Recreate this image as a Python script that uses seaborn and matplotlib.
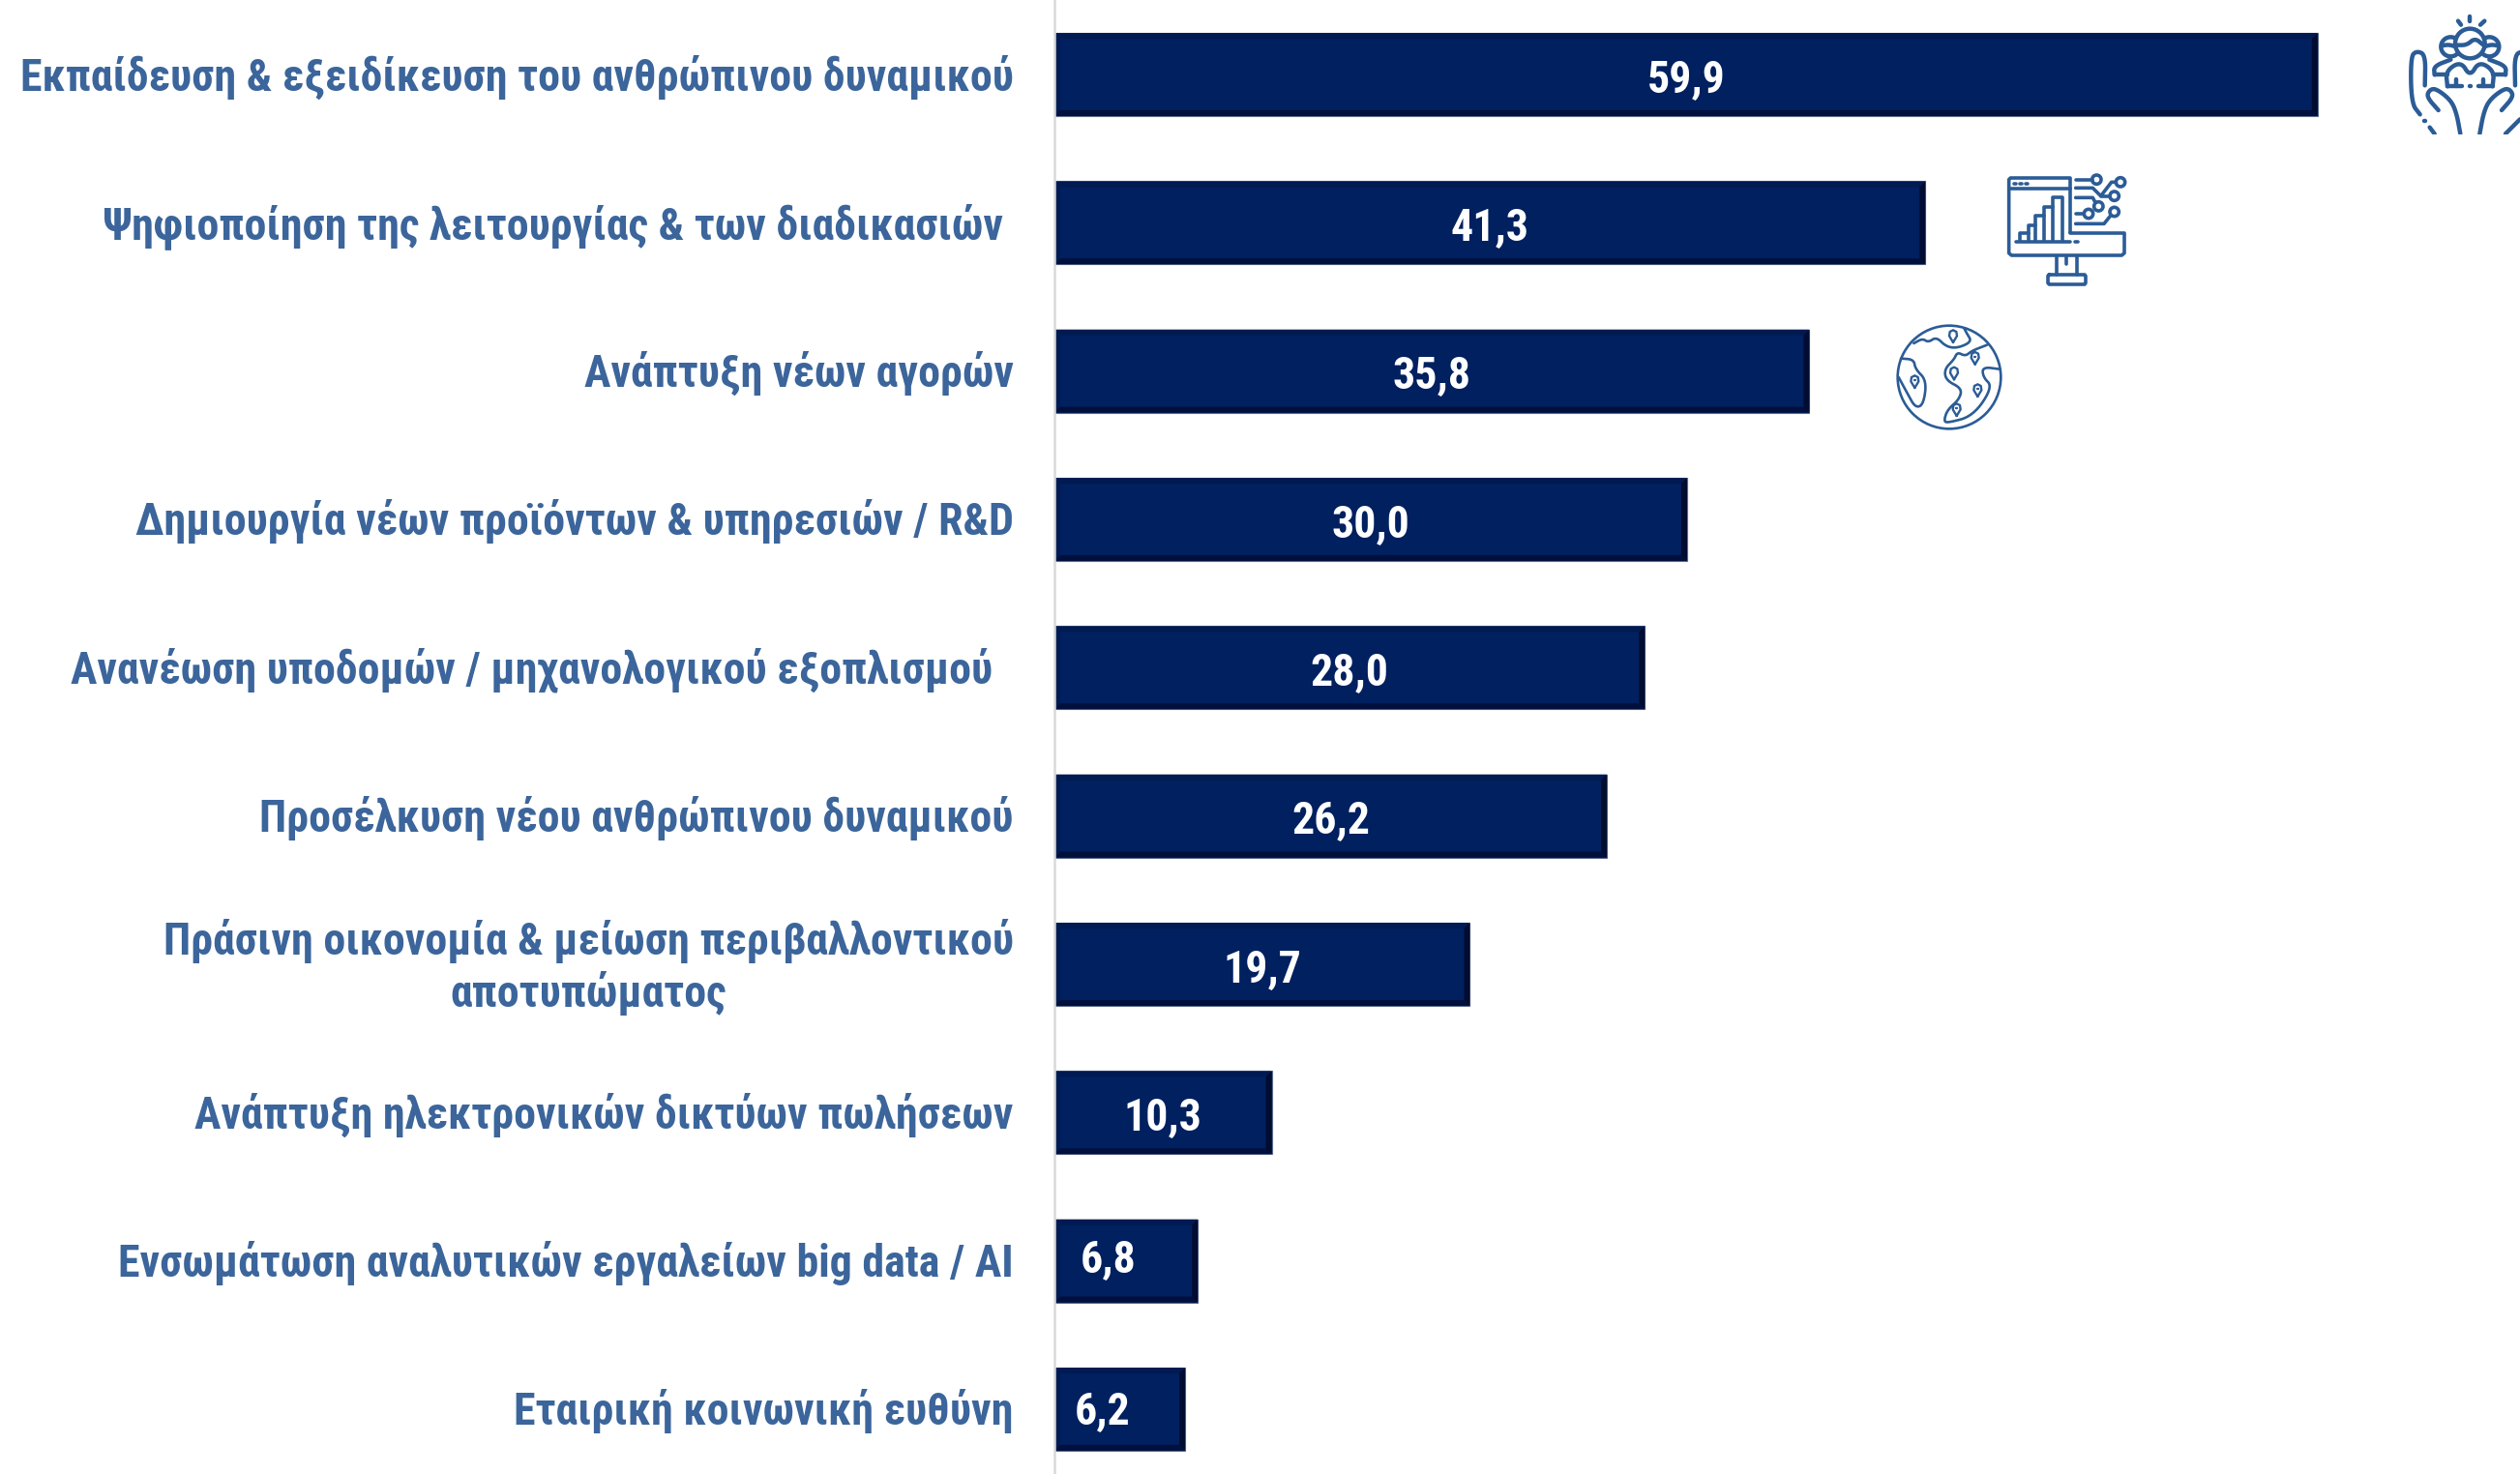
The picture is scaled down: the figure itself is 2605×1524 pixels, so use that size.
import numpy as np
import seaborn as sns
import matplotlib
matplotlib.use("Agg")
import matplotlib.pyplot as plt
from matplotlib.patches import Circle, Polygon, Rectangle
from matplotlib.transforms import ScaledTranslation

categories = [
    "Εκπαίδευση & εξειδίκευση του ανθρώπινου δυναμικού",
    "Ψηφιοποίηση της λειτουργίας & των διαδικασιών ",
    "Ανάπτυξη νέων αγορών",
    "Δημιουργία νέων προϊόντων & υπηρεσιών / R&D",
    "Ανανέωση υποδομών / μηχανολογικού εξοπλισμού  ",
    "Προσέλκυση νέου ανθρώπινου δυναμικού",
    "Πράσινη οικονομία & μείωση περιβαλλοντικού\nαποτυπώματος",
    "Ανάπτυξη ηλεκτρονικών δικτύων πωλήσεων",
    "Ενσωμάτωση αναλυτικών εργαλείων big data / AI",
    "Εταιρική κοινωνική ευθύνη",
]
values = [59.9, 41.3, 35.8, 30.0, 28.0, 26.2, 19.7, 10.3, 6.8, 6.2]

BAR = "#00205f"
TEXT = "#3b659b"
ICON = "#2b5c96"

W, H = 2605, 1524
X0 = 1090          # pixel where the bars start
PX_PER_UNIT = 21.8
ROW = 153.33
TOP = 77

sns.set_theme(style="white")
plt.rcParams['font.family'] = ['Roboto Condensed', 'Liberation Sans', 'DejaVu Sans']

fig = plt.figure(figsize=(W / 100, H / 100), dpi=100)
ax = fig.add_axes([X0 / W, 0, 1 - X0 / W, 1])

sns.barplot(x=values, y=categories, color=BAR, saturation=1, width=0.56, orient="h", ax=ax)
ax.set_xlim(0, (W - X0) / PX_PER_UNIT)
ax.set_ylim((H - TOP) / ROW, -TOP / ROW)
ax.xaxis.set_visible(False)
for s in ["top", "right", "bottom"]:
    ax.spines[s].set_visible(False)
ax.spines["left"].set_color("#d9d9d9")
ax.spines["left"].set_linewidth(1.8)
ax.tick_params(axis="y", length=0, pad=30.5)
for lab in ax.get_yticklabels():
    lab.set_fontsize(33)
    lab.set_fontweight("bold")
    lab.set_color(TEXT)
    lab.set_multialignment("center")
    # wrapped label sits a little higher than the others
    up = 5 if "\n" in lab.get_text() else 2
    lab.set_transform(lab.get_transform() + ScaledTranslation(0, up / 100, fig.dpi_scale_trans))

# bevel around each bar
dx, dy = 6 / PX_PER_UNIT, 6 / ROW
for bar in ax.patches:
    x, y, w, h = bar.get_x(), bar.get_y(), bar.get_width(), bar.get_height()
    bar.set_edgecolor("#5b6a8c")
    bar.set_linewidth(0.8)
    x1, y1 = x + w, y + h
    ax.add_patch(Polygon([(x, y), (x1, y), (x1 - dx, y + dy), (x + dx, y + dy)], fc="#001a52", ec="none"))
    ax.add_patch(Polygon([(x, y), (x + dx, y + dy), (x + dx, y1 - dy), (x, y1)], fc="#001a52", ec="none"))
    ax.add_patch(Polygon([(x, y1), (x + dx, y1 - dy), (x1 - dx, y1 - dy), (x1, y1)], fc="#000f3c", ec="none"))
    ax.add_patch(Polygon([(x1, y), (x1, y1), (x1 - dx, y1 - dy), (x1 - dx, y + dy)], fc="#000c30", ec="none"))

labels = ax.bar_label(ax.containers[0], labels=[f"{v:.1f}".replace(".", ",") for v in values],
                      label_type="center", color="white", fontsize=33, fontweight="bold")
for t, v in zip(labels, values):
    t.set_zorder(5)
    # the two shortest labels sit left of the bar centre
    off_x = -18 * 0.72 if v < 10 else 0
    off_y = {6.8: 0.9, 6.2: -1.5}.get(v, -3.3)
    t.xyann = (off_x, off_y)

# icons, drawn in picture pixels
ov = fig.add_axes([0, 0, 1, 1], facecolor="none")
ov.set_xlim(0, W)
ov.set_ylim(H, 0)
ov.axis("off")


def smooth(pts, n=3):
    # corner cutting, ends stay where they are
    p = np.array(pts, dtype=float)
    for _ in range(n):
        q = np.empty((2 * len(p), 2))
        q[0::2] = 0.75 * p + 0.25 * np.roll(p, -1, axis=0)
        q[1::2] = 0.25 * p + 0.75 * np.roll(p, -1, axis=0)
        p = np.vstack([p[0], q[:-2], p[-1]])
    return p


def stroke(pts, off, lw, clip=None, curved=False, z=3):
    p = smooth(pts) if curved else np.array(pts, dtype=float)
    p = p / 3 + off
    ln, = ov.plot(p[:, 0], p[:, 1], color=ICON, lw=lw, solid_capstyle="round", solid_joinstyle="round", zorder=z)
    if clip is not None:
        ln.set_clip_path(clip)


def ring(c, r, off, lw, fc="none", z=3):
    p = np.array(c, dtype=float) / 3 + off
    ov.add_patch(Circle(p, r / 3, fc=fc, ec=ICON, lw=lw, zorder=z))


# people in hands
o1 = np.array([2250, 0])
clip1 = Rectangle((2250, 0), 355, 139, transform=ov.transData)
LW1 = 3.2
ring((850, 145), 30, o1, LW1, z=2)
ring((970, 145), 30, o1, LW1, z=2)
stroke([(822, 142), (845, 138), (875, 148)], o1, LW1, curved=True, z=2)
stroke([(998, 142), (975, 138), (945, 148)], o1, LW1, curved=True, z=2)
ring((910, 135), 46, o1, LW1, fc="white", z=4)
stroke([(868, 140), (900, 140), (925, 118), (952, 140)], o1, LW1, curved=True, z=5)
for pts in [[(873, 65), (882, 77)], [(910, 50), (910, 66)], [(955, 65), (942, 77)],
            [(800, 232), (840, 232)], [(980, 232), (1020, 232)],
            [(868, 268), (868, 245)], [(952, 268), (952, 245)],
            [(840, 268), (885, 268)], [(935, 268), (980, 268)],
            [(908, 268), (912, 268)], [(768, 375), (772, 375)], [(785, 395), (800, 415)],
            [(1065, 370), (1020, 415)]]:
    stroke(pts, o1, LW1, clip1, z=5)
for pts in [[(800, 232), (798, 205), (850, 185)], [(1020, 232), (1022, 205), (970, 185)],
            [(840, 268), (835, 220), (882, 190), (910, 238), (938, 190), (985, 220), (980, 268)],
            [(770, 265), (772, 170), (745, 158), (726, 175), (728, 320), (755, 355)],
            [(812, 342), (775, 300), (785, 278), (805, 275), (850, 310), (868, 350), (880, 415)],
            [(1050, 265), (1048, 170), (1075, 158), (1094, 175)],
            [(1008, 342), (1045, 300), (1035, 278), (1015, 275), (970, 310), (952, 350), (940, 415)]]:
    stroke(pts, o1, LW1, clip1, curved=True, z=5)

# monitor and circuits
o2 = np.array([1900, 160])
for pts in [[(720, 240), (720, 72), (535, 72), (530, 77), (530, 305), (538, 312), (880, 312), (888, 305), (888, 243), (720, 243)],
            [(530, 105), (720, 105)], [(546, 90), (553, 90)], [(564, 90), (571, 90)], [(582, 90), (589, 90)],
            [(565, 268), (565, 243), (590, 243)], [(590, 268), (590, 220), (612, 220)],
            [(612, 268), (612, 188), (640, 188)], [(640, 268), (640, 162), (665, 162)],
            [(665, 268), (665, 132), (695, 132), (695, 268)],
            [(552, 270), (720, 270)], [(736, 270), (744, 270)],
            [(678, 314), (678, 372)], [(742, 314), (742, 372)], [(708, 318), (708, 338)],
            [(655, 372), (765, 372), (768, 376), (768, 398), (765, 402), (655, 402), (651, 398), (651, 376), (655, 372)],
            [(737, 77), (788, 77)], [(737, 103), (790, 103), (815, 128), (848, 85), (862, 85)],
            [(815, 128), (843, 128)], [(737, 133), (790, 133), (798, 148)],
            [(737, 183), (763, 183)], [(737, 214), (825, 214), (846, 188)]]:
    stroke(pts, o2, 2.6)
for c in [(802, 77), (876, 85), (857, 128), (808, 160), (777, 183), (857, 177)]:
    ring(c, 14, o2, 2.6)

# globe
ring((345, 690), 160, o2, 1.9)
for pts in [[(235, 585), (262, 570), (280, 582), (305, 565), (335, 595), (370, 600), (415, 580), (400, 555), (392, 540)],
            [(195, 632), (235, 635), (240, 665), (275, 700), (265, 775), (240, 785), (215, 740), (188, 690)],
            [(462, 590), (415, 608), (395, 625), (370, 612), (360, 635), (330, 665), (335, 700), (385, 725),
             (375, 760), (340, 790), (328, 825), (340, 832), (420, 810), (480, 720), (450, 690), (448, 658), (502, 665)]]:
    stroke(pts, o2, 1.9, curved=True)
for cx, cy in [(357, 562), (425, 630), (360, 677), (238, 703), (433, 730), (368, 790)]:
    stroke([(cx, cy + 20), (cx - 12, cy), (cx - 10, cy - 13), (cx, cy - 18), (cx + 10, cy - 13), (cx + 12, cy), (cx, cy + 20)], o2, 1.7)
    stroke([(cx - 1, cy - 3), (cx + 1, cy - 3)], o2, 1.7)

fig.savefig("out.png", dpi=100)
